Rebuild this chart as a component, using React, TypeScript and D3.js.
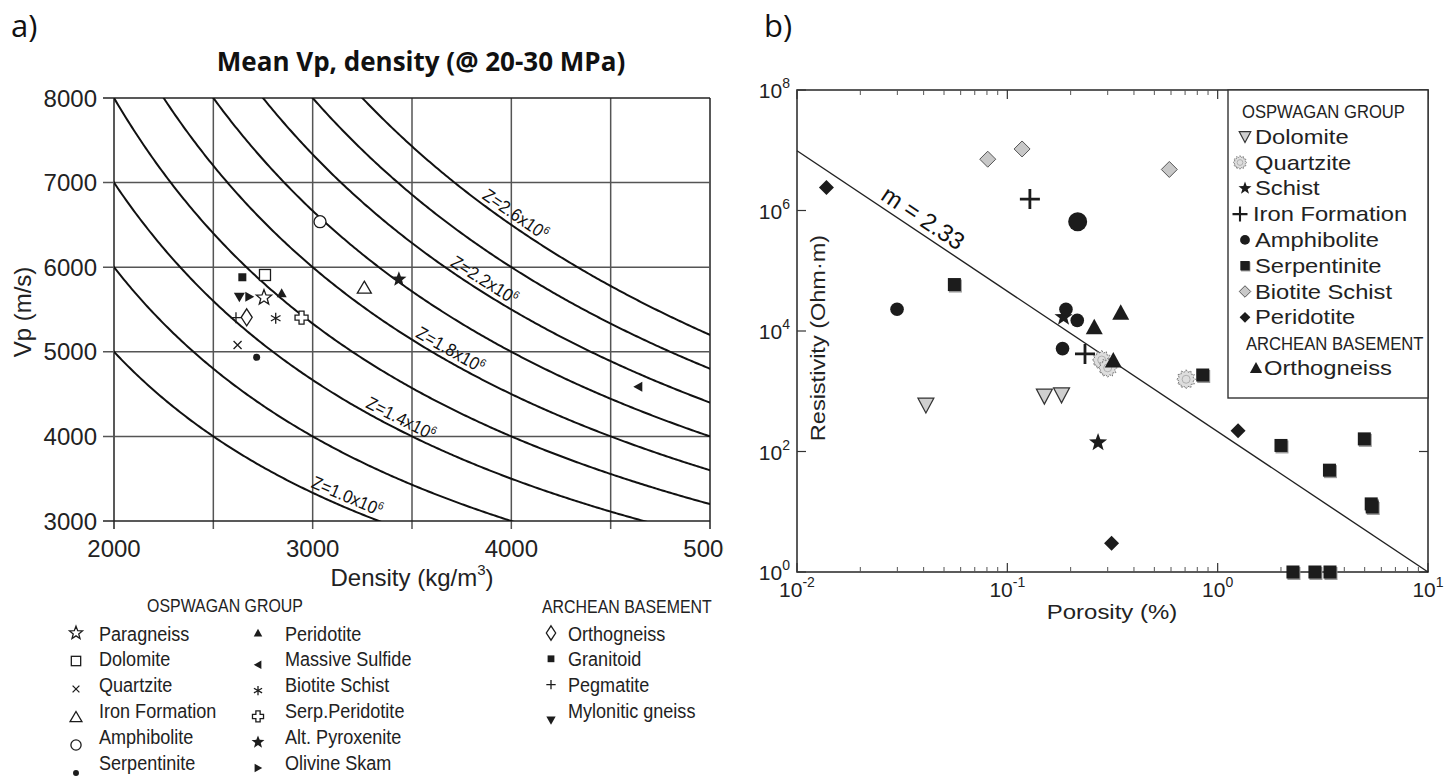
import React from 'react';
import * as d3 from 'd3';

const FONT = '"Liberation Sans", Arial, Helvetica, sans-serif';
const INK = '#1c1c1c';

// ---------------- Panel a data ----------------
const densityTickValues = [2000, 3000, 4000, 5000];
const densityGridValues = [2000, 2500, 3000, 3500, 4000, 4500, 5000];
const vpTickValues = [3000, 4000, 5000, 6000, 7000, 8000];
const impedanceCurves = [10, 12, 14, 16, 18, 20, 22, 24, 26]; // x10^6 kg/(m2 s)
const impedanceLabelCurve = [10, 14, 18, 22, 26];
const impedanceLabelText = ['1.0', '1.4', '1.8', '2.2', '2.6'];
const impedanceLabelDensity = [3152, 3419, 3666, 3835, 3990];

const rockNamesA = ['Paragneiss', 'Dolomite', 'Quartzite', 'Iron Formation', 'Amphibolite', 'Serpentinite',
  'Peridotite', 'Massive Sulfide', 'Biotite Schist', 'Serp.Peridotite', 'Alt. Pyroxenite', 'Olivine Skam',
  'Orthogneiss', 'Granitoid', 'Pegmatite', 'Mylonitic gneiss'];
const rockDensityA = [2755, 2760, 2622, 3260, 3037, 2718, 2844, 4639, 2814, 2944, 3434, 2681, 2668, 2646, 2614, 2631];
const rockVpA = [5640, 5908, 5080, 5758, 6538, 4935, 5691, 4588, 5396, 5403, 5857, 5651, 5408, 5881, 5403, 5644];
const rockSymbolA = ['starOpen', 'squareOpen', 'x', 'triangleOpen', 'circleOpen', 'dot',
  'triSmall', 'triLeft', 'asterisk', 'crossOpen', 'starFilled', 'triRight',
  'diamondOpen', 'squareFilled', 'plus', 'triDown'];

// ---------------- Panel b data ----------------
const porosityTickExp = [-2, -1, 0, 1];
const resistivityTickExp = [0, 2, 4, 6, 8];
const groupNamesB = ['Dolomite', 'Quartzite', 'Schist', 'Iron Formation', 'Amphibolite', 'Serpentinite', 'Biotite Schist', 'Peridotite', 'Orthogneiss'];
const groupSymbolB = ['bTriDown', 'bGear', 'bStar', 'bPlus', 'bCircle', 'bSquare', 'bDiamondGray', 'bDiamond', 'bTriangle'];
const dolomitePor = [0.041, 0.150, 0.181];
const dolomiteRes = [590, 830, 870];
const quartzitePor = [0.281, 0.300, 0.708];
const quartziteRes = [3300, 2450, 1580];
const schistPor = [0.185, 0.27];
const schistRes = [17000, 141];
const ironPor = [0.128, 0.234];
const ironRes = [1550000, 4170];
const amphibolitePor = [0.216, 0.0299, 0.190, 0.215, 0.183];
const amphiboliteRes = [650000, 23000, 23000, 15000, 5100];
const serpentinitePor = [0.056, 0.849, 2.0, 3.4, 4.98, 5.37, 5.43, 2.28, 2.9, 3.42];
const serpentiniteRes = [59000, 1860, 126, 49, 162, 13.5, 12, 1, 1, 1];
const biotitePor = [0.0807, 0.1175, 0.589];
const biotiteRes = [7100000, 10500000, 4800000];
const peridotitePor = [0.0138, 0.313, 1.25];
const peridotiteRes = [2400000, 3.0, 222];
const orthogneissPor = [0.259, 0.346, 0.319];
const orthogneissRes = [11500, 20000, 3240];
const fitPor = [0.01, 10];
const fitRes = [9800000, 1];

const seriesB = [
  [dolomitePor, dolomiteRes], [quartzitePor, quartziteRes], [schistPor, schistRes], [ironPor, ironRes],
  [amphibolitePor, amphiboliteRes], [serpentinitePor, serpentiniteRes], [biotitePor, biotiteRes],
  [peridotitePor, peridotiteRes], [orthogneissPor, orthogneissRes],
];

// ---------------- helpers ----------------
function starPath(ro: number, ri: number, n = 5) {
  const pts: string[] = [];
  for (let i = 0; i < 2 * n; i++) {
    const r = i % 2 === 0 ? ro : ri;
    const a = -Math.PI / 2 + (i * Math.PI) / n;
    pts.push(`${(r * Math.cos(a)).toFixed(2)},${(r * Math.sin(a)).toFixed(2)}`);
  }
  return 'M' + pts.join('L') + 'Z';
}

function Marker({ kind, x, y, k = 1 }: { kind: string; x: number; y: number; k?: number }) {
  const t = `translate(${x},${y}) scale(${k})`;
  const sw = 1.3 / k;
  switch (kind) {
    case 'starOpen': return <path transform={t} d={starPath(8, 3.4)} fill="#fff" stroke={INK} strokeWidth={sw} />;
    case 'starFilled': return <path transform={t} d={starPath(8, 3.4)} fill={INK} />;
    case 'squareOpen': return <rect transform={t} x={-5.5} y={-5.5} width={11} height={11} fill="#fff" stroke={INK} strokeWidth={sw} />;
    case 'squareFilled': return <rect transform={t} x={-4} y={-4} width={8} height={8} fill={INK} />;
    case 'x': return <path transform={t} d="M-4,-4L4,4M-4,4L4,-4" stroke={INK} strokeWidth={sw} />;
    case 'triangleOpen': return <path transform={t} d="M0,-6.5L7,5.5L-7,5.5Z" fill="none" stroke={INK} strokeWidth={sw} />;
    case 'circleOpen': return <circle transform={t} r={6} fill="#fff" stroke={INK} strokeWidth={sw} />;
    case 'dot': return <circle transform={t} r={3.5} fill={INK} />;
    case 'triSmall': return <path transform={t} d="M0,-5L5,4L-5,4Z" fill={INK} />;
    case 'triLeft': return <path transform={t} d="M-5,0L4,-5L4,5Z" fill={INK} />;
    case 'asterisk': return <path transform={t} d="M0,-5.5L0,5.5M-4.8,-2.75L4.8,2.75M-4.8,2.75L4.8,-2.75" stroke={INK} strokeWidth={sw} />;
    case 'crossOpen': return <path transform={t} d="M-2.5,-6.5L2.5,-6.5L2.5,-2.5L6.5,-2.5L6.5,2.5L2.5,2.5L2.5,6.5L-2.5,6.5L-2.5,2.5L-6.5,2.5L-6.5,-2.5L-2.5,-2.5Z" fill="#fff" stroke={INK} strokeWidth={sw} />;
    case 'triRight': return <path transform={t} d="M5,0L-4,-5L-4,5Z" fill={INK} />;
    case 'diamondOpen': return <path transform={t} d="M0,-8.5L5.5,0L0,8.5L-5.5,0Z" fill="#fff" stroke={INK} strokeWidth={sw} />;
    case 'plus': return <path transform={t} d="M-5.5,0L5.5,0M0,-5.5L0,5.5" stroke={INK} strokeWidth={sw} />;
    case 'triDown': return <path transform={t} d="M-5.5,-4.5L5.5,-4.5L0,5Z" fill={INK} />;
    case 'bTriDown': return <path transform={t} d="M-8,-7L8,-7L0,8Z" fill="#cfcfcf" stroke="#333" strokeWidth={1.2 / k} />;
    case 'bGear': return (
      <g transform={t}>
        <path d={starPath(9.5, 7.2, 12)} fill="#dedede" stroke="#7a7a7a" strokeWidth={1 / k} strokeDasharray="2 1" />
        <circle r={4} fill="none" stroke="#b0b0b0" strokeWidth={1 / k} />
      </g>
    );
    case 'bStar': return <path transform={t} d={starPath(9.5, 3.9)} fill={INK} />;
    case 'bPlus': return <path transform={t} d="M-10,0L10,0M0,-10L0,10" stroke={INK} strokeWidth={2.8} />;
    case 'bCircle': return <circle transform={t} r={6.8} fill={INK} />;
    case 'bCircleBig': return <circle transform={t} r={9.5} fill={INK} />;
    case 'bSquare': return (
      <g transform={t}>
        <rect x={-5.5} y={-5} width={13} height={13} fill="#9a9a9a" />
        <rect x={-6.5} y={-6.5} width={13} height={13} fill={INK} />
      </g>
    );
    case 'bDiamondGray': return <path transform={t} d="M0,-8L8,0L0,8L-8,0Z" fill="#c8c8c8" stroke="#555" strokeWidth={1 / k} />;
    case 'bDiamond': return <path transform={t} d="M0,-7.5L7.5,0L0,7.5L-7.5,0Z" fill={INK} />;
    case 'bTriangle': return <path transform={t} d="M0,-8.5L8.5,7L-8.5,7Z" fill={INK} />;
    default: return null;
  }
}

function Label({ x, y, text, size = 21, sx = 1, anchor = 'start', weight = 'normal', rotate = 0, family = FONT, fill = '#222' }:
  { x: number; y: number; text: string; size?: number; sx?: number; anchor?: string; weight?: string; rotate?: number; family?: string; fill?: string }) {
  return (
    <g transform={`translate(${x},${y}) rotate(${rotate}) scale(${sx},1)`}>
      <text x={0} y={0} fontSize={size} fontFamily={family} textAnchor={anchor as any} dominantBaseline="central" fontWeight={weight} fill={fill}>{text}</text>
    </g>
  );
}

// ---------------- Panel a ----------------
function PanelA() {
  const x = d3.scaleLinear().domain([2000, 5000]).range([114, 710]);
  const y = d3.scaleLinear().domain([3000, 8000]).range([521, 98]);
  const [x0, x1] = x.range();
  const [y0, y1] = y.range();
  const densities = d3.range(1900, 5101, 10);
  const line = d3.line<number[]>().x(d => x(d[0])).y(d => y(d[1])).curve(d3.curveLinear);

  const legendCols = [[0, 1, 2, 3, 4, 5], [6, 7, 8, 9, 10, 11], [12, 13, 14, 15]];
  const colSymX = [76, 258, 551];
  const colTextX = [99, 285, 568];
  const rowY = (r: number) => 633 + r * 25.8;
  const symOffset = (c: number, r: number) => (c === 0 ? r * 2.2 : c === 1 ? (r === 0 ? 0 : 6) : (r === 3 ? 10 : 0));

  return (
    <g>
      <defs>
        <clipPath id="clipA"><rect x={x0} y={y1} width={x1 - x0} height={y0 - y1} /></clipPath>
        <clipPath id="clipAxisA"><rect x={0} y={0} width={724} height={778} /></clipPath>
      </defs>
      <Label x={11} y={25} text="a)" size={31} family='"Open Sans", "Liberation Sans", sans-serif' fill="#111" />
      <Label x={421} y={61} text="Mean Vp, density (@ 20-30 MPa)" size={26} weight="bold" family='"Open Sans", "Liberation Sans", sans-serif' anchor="middle" fill="#111" />

      {/* grid */}
      {densityGridValues.map(d => (
        <line key={'gx' + d} x1={x(d)} x2={x(d)} y1={y1} y2={y0 + 8} stroke={d === 2000 || d === 5000 ? '#222' : '#555'} strokeWidth={1.5} />
      ))}
      {vpTickValues.map(v => (
        <line key={'gy' + v} x1={x0 - 11} x2={x1} y1={y(v)} y2={y(v)} stroke={v === 8000 || v === 3000 ? '#222' : '#555'} strokeWidth={1.5} />
      ))}

      {/* impedance curves */}
      <g clipPath="url(#clipA)">
        {impedanceCurves.map(z => (
          <path key={'z' + z} d={line(densities.map(rho => [rho, (z * 1e6) / rho])) || ''} fill="none" stroke="#111" strokeWidth={2} />
        ))}
      </g>
      {impedanceLabelCurve.map((z, i) => {
        const rho = impedanceLabelDensity[i];
        const px = x(rho), py = y((z * 1e6) / rho);
        const qx = x(rho + 10), qy = y((z * 1e6) / (rho + 10));
        const ang = (Math.atan2(qy - py, qx - px) * 180) / Math.PI;
        return (
          <g key={'zl' + z} transform={`translate(${px},${py}) rotate(${ang}) scale(0.92,1)`}>
            <text x={0} y={-5} fontSize={18} fontFamily={FONT} textAnchor="middle" fill="#111">
              {`Z=${impedanceLabelText[i]}x10`}<tspan dy={-7} fontSize={11}>6</tspan>
            </text>
          </g>
        );
      })}

      {/* markers */}
      {rockNamesA.map((n, i) => (
        <Marker key={'m' + n} kind={rockSymbolA[i]} x={x(rockDensityA[i])} y={y(rockVpA[i])} />
      ))}

      {/* axes labels */}
      {vpTickValues.map(v => (
        <Label key={'ty' + v} x={97} y={y(v)} text={String(v)} size={24} anchor="end" />
      ))}
      <g clipPath="url(#clipAxisA)">
        {densityTickValues.map(d => (
          <Label key={'tx' + d} x={x(d)} y={548} text={String(d)} size={24} anchor="middle" />
        ))}
      </g>
      <Label x={22} y={312} text="Vp (m/s)" size={24} anchor="middle" rotate={-90} />
      <g transform="translate(412,577)">
        <text fontSize={24} fontFamily={FONT} textAnchor="middle" dominantBaseline="central" fill="#222">
          Density (kg/m<tspan dy={-8} fontSize={15}>3</tspan><tspan dy={8}>)</tspan>
        </text>
      </g>

      {/* legend */}
      <Label x={225} y={606} text="OSPWAGAN GROUP" size={18.5} sx={0.86} anchor="middle" />
      <Label x={542} y={607} text="ARCHEAN BASEMENT" size={18.5} sx={0.86} />
      {legendCols.map((col, c) => col.map((idx, r) => (
        <g key={'lg' + idx}>
          <Marker kind={rockSymbolA[idx]} x={colSymX[c]} y={rowY(r) + symOffset(c, r)} k={0.85} />
          <Label x={colTextX[c]} y={rowY(r)} text={rockNamesA[idx]} size={21} sx={0.86} />
        </g>
      )))}
    </g>
  );
}

// ---------------- Panel b ----------------
function PanelB() {
  const x = d3.scaleLog().domain([0.01, 10]).range([797, 1428]);
  const y = d3.scaleLog().domain([1, 1e8]).range([572, 90]);
  const [x0, x1] = x.range();
  const [y0, y1] = y.range();
  const minorX: number[] = [];
  porosityTickExp.slice(0, -1).forEach(e => { for (let m = 2; m <= 9; m++) minorX.push(m * Math.pow(10, e)); });
  const fitLine = d3.line<number>().x(i => x(fitPor[i])).y(i => y(fitRes[i]));
  const ax = x(fitPor[0]), ay = y(fitRes[0]);
  const bx = x(fitPor[1]), by = y(fitRes[1]);
  const fitAngle = (Math.atan2(by - ay, bx - ax) * 180) / Math.PI;
  const labelPor = 0.0365;
  const lx = x(labelPor), ly = y(fitRes[0] * Math.pow(labelPor / fitPor[0], -7 / 3));

  const legX = 1228, legW = 1428 - 1228;
  const itemY = (i: number) => 136.7 + i * 25.8;

  return (
    <g>
      <Label x={764} y={25} text="b)" size={31} family='"Open Sans", "Liberation Sans", sans-serif' fill="#111" />
      {/* frame */}
      <rect x={x0} y={y1} width={x1 - x0} height={y0 - y1} fill="none" stroke="#333" strokeWidth={1.6} />
      {/* ticks */}
      {porosityTickExp.map(e => (
        <g key={'bx' + e}>
          <line x1={x(Math.pow(10, e))} x2={x(Math.pow(10, e))} y1={y0} y2={y0 - 9} stroke="#333" strokeWidth={1.2} />
          <line x1={x(Math.pow(10, e))} x2={x(Math.pow(10, e))} y1={y1} y2={y1 + 9} stroke="#333" strokeWidth={1.2} />
          <text x={x(Math.pow(10, e))} y={597} fontSize={21} fontFamily={FONT} textAnchor="middle" fill="#222">
            10<tspan dy={-10} fontSize={14}>{String(e)}</tspan>
          </text>
        </g>
      ))}
      {minorX.map((v, i) => (
        <g key={'mx' + i}>
          <line x1={x(v)} x2={x(v)} y1={y0} y2={y0 - 5} stroke="#555" strokeWidth={1} />
          <line x1={x(v)} x2={x(v)} y1={y1} y2={y1 + 5} stroke="#555" strokeWidth={1} />
        </g>
      ))}
      {resistivityTickExp.map(e => (
        <g key={'by' + e}>
          <line x1={x0} x2={x0 + 9} y1={y(Math.pow(10, e))} y2={y(Math.pow(10, e))} stroke="#333" strokeWidth={1.2} />
          <line x1={x1} x2={x1 - 9} y1={y(Math.pow(10, e))} y2={y(Math.pow(10, e))} stroke="#333" strokeWidth={1.2} />
          <text x={790} y={y(Math.pow(10, e)) + 8} fontSize={21} fontFamily={FONT} textAnchor="end" fill="#222">
            10<tspan dy={-10} fontSize={14}>{String(e)}</tspan>
          </text>
        </g>
      ))}
      <Label x={1112} y={612} text="Porosity (%)" size={21} sx={1.14} anchor="middle" />
      <Label x={818} y={338} text="Resistivity (Ohm·m)" size={21} sx={1.12} anchor="middle" rotate={-90} />

      {/* fit line */}
      <path d={fitLine([0, 1]) || ''} fill="none" stroke="#222" strokeWidth={1.4} />
      <g transform={`translate(${lx},${ly}) rotate(${fitAngle})`}>
        <text x={0} y={-6} fontSize={24} fontFamily={FONT} textAnchor="middle" fill="#111">m = 2.33</text>
      </g>

      {/* points */}
      {seriesB.map(([por, res], g) => por.map((p, i) => (
        <Marker key={'p' + g + '-' + i}
          kind={groupSymbolB[g] === 'bCircle' && i === 0 ? 'bCircleBig' : groupSymbolB[g]}
          x={x(p)} y={y(res[i])} />
      )))}

      {/* legend */}
      <rect x={legX} y={y1} width={legW} height={398 - y1} fill="#fff" stroke="#333" strokeWidth={1.4} />
      <Label x={1242} y={111.7} text="OSPWAGAN GROUP" size={18.5} sx={0.9} />
      {groupNamesB.slice(0, 8).map((n, i) => (
        <g key={'lb' + n}>
          <Marker kind={groupSymbolB[i]} x={groupSymbolB[i] === 'bGear' || groupSymbolB[i] === 'bPlus' ? 1240 : 1245} y={itemY(i)}
            k={groupSymbolB[i] === 'bPlus' ? 0.75 : 0.72} />
          <Label x={groupSymbolB[i] === 'bPlus' ? 1253 : 1255} y={itemY(i)} text={n} size={21} sx={1.13} />
        </g>
      ))}
      <Label x={1246} y={343.3} text="ARCHEAN BASEMENT" size={18.5} sx={0.9} />
      <Marker kind={groupSymbolB[8]} x={1256} y={368} k={0.72} />
      <Label x={1264} y={368} text={groupNamesB[8]} size={21} sx={1.13} />
    </g>
  );
}

export default function App() {
  return (
    <svg width={1456} height={778} viewBox="0 0 1456 778"
      style={{ position: 'absolute', left: 0, top: 0, display: 'block', background: '#fff' }}>
      <rect x={0} y={0} width={1456} height={778} fill="#fff" />
      <PanelA />
      <PanelB />
    </svg>
  );
}
